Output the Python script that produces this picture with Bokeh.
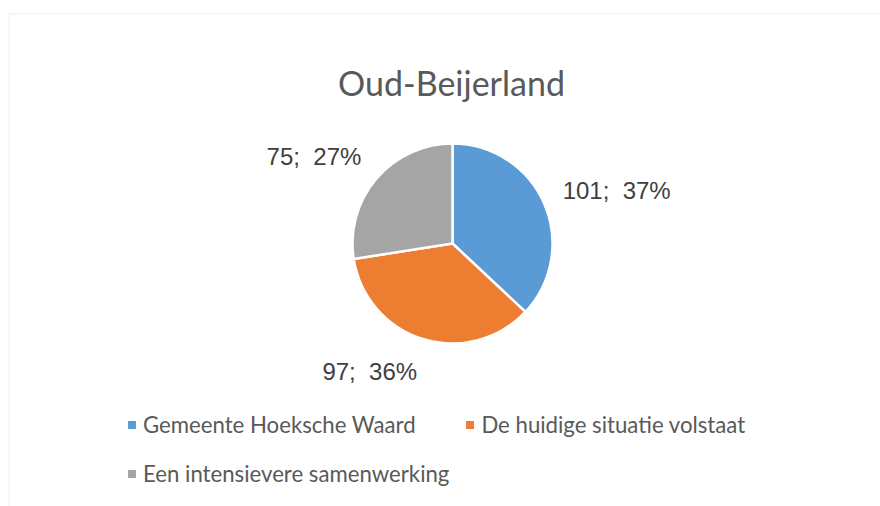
import numpy as np
from bokeh.plotting import figure
from bokeh.models import ColumnDataSource, Legend, LegendItem, Label, BoxAnnotation, Range1d
from bokeh.core.properties import value
from bokeh.embed import file_html
from bokeh.resources import INLINE

# ---- data ----
title_text = "Oud-Beijerland"
categories = ["Gemeente Hoeksche Waard", "De huidige situatie volstaat", "Een intensievere samenwerking"]
counts = [101, 97, 75]
colors = ["#5B9BD5", "#ED7D31", "#A5A5A5"]

# ---- layout ----
W, H = 880, 506
CX, CY, R = 452, 263, 100
LABEL_R = 120
HALF_LABEL_H = 13.5

vals = np.array(counts, dtype=float)
frac = vals / vals.sum()
ends = np.pi / 2 - 2 * np.pi * np.cumsum(frac)
starts = np.concatenate([[np.pi / 2], ends[:-1]])
mids = (starts + ends) / 2

labels = [f"{c};\u00a0 {int(round(f * 100))}%" for c, f in zip(counts, frac)]
lx = CX + LABEL_R * np.cos(mids)
ly = CY + LABEL_R * np.sin(mids) + HALF_LABEL_H * np.sin(mids)
align = ["left" if np.cos(m) > 0 else "right" for m in mids]

src = ColumnDataSource(dict(start=starts, end=ends, color=colors, cat=categories))
lsrc = ColumnDataSource(dict(x=lx, y=ly, text=labels, align=align))

p = figure(width=W, height=H, output_backend="svg", toolbar_location=None,
           x_range=Range1d(0, W), y_range=Range1d(0, H), min_border=0)
p.axis.visible = False
p.grid.visible = False
p.outline_line_color = None
p.background_fill_color = "white"
p.border_fill_color = "white"

# chart area border (cropped)
p.add_layout(BoxAnnotation(left=8.5, right=W + 20, bottom=-20, top=H - 13,
                           fill_alpha=0, line_color="#D9D9D9", line_width=1.5))

wr = p.wedge(x=CX, y=CY, radius=R, radius_units="screen", start_angle="start", end_angle="end",
             direction="clock", fill_color="color", line_color="white", line_width=2.5, source=src)

p.text(x="x", y="y", text="text", source=lsrc, text_align="align", text_baseline="middle",
       text_font=value("Liberation Sans"), text_font_size="24px", text_color="#404040")

p.add_layout(Label(x=451, y=H - 81.5, text=title_text, text_align="center", text_baseline="alphabetic",
                   text_font="Lato", text_font_size="34px", text_color="#595959"))

items = [LegendItem(label=c, renderers=[wr], index=i) for i, c in enumerate(categories)]
legend = Legend(items=items, location=(125, 15), orientation="horizontal", ncols=2,
                glyph_width=13, glyph_height=13, label_standoff=5, spacing=14,
                label_height=35, padding=0, margin=0,
                label_text_font="Lato", label_text_font_size="22.2px", label_text_color="#595959",
                border_line_color=None, background_fill_alpha=0)
p.add_layout(legend, "center")

open("out.html", "w").write(file_html(p, INLINE))
